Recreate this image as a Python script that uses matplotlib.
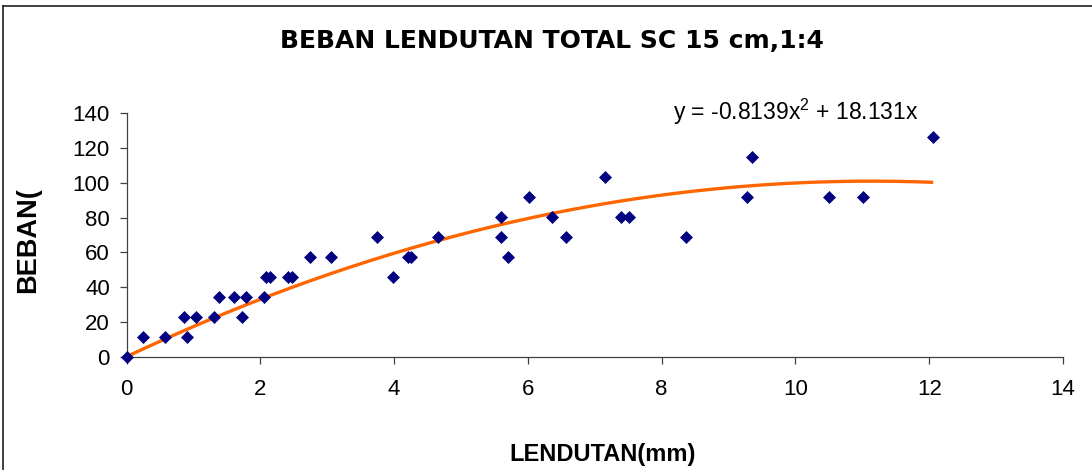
import numpy as np
import matplotlib
matplotlib.use("Agg")
import matplotlib.pyplot as plt
from matplotlib.lines import Line2D

plt.rcParams['font.family'] = ['Liberation Sans', 'DejaVu Sans']
plt.rcParams['mathtext.fontset'] = 'custom'
plt.rcParams['mathtext.rm'] = 'Liberation Sans'

# Data
lendutan = [0.0, 0.24, 0.58, 0.86, 0.90, 1.04, 1.31, 1.39, 1.60, 1.72, 1.79,
            2.05, 2.09, 2.15, 2.41, 2.47, 2.75, 3.05, 3.75, 3.99, 4.21, 4.26,
            4.66, 5.60, 5.60, 5.71, 6.01, 6.36, 6.57, 7.16, 7.39, 7.51, 8.37,
            9.28, 9.35, 10.50, 11.01, 12.06]
beban = [0.0, 11.5, 11.5, 23.0, 11.5, 23.0, 23.0, 34.5, 34.5, 23.0, 34.5,
         34.5, 46.0, 46.0, 46.0, 46.0, 57.5, 57.5, 69.0, 46.0, 57.5, 57.5,
         69.0, 80.5, 69.0, 57.5, 92.0, 80.5, 69.0, 103.5, 80.5, 80.5, 69.0,
         92.0, 115.0, 92.0, 92.0, 126.5]
coef_a = -0.8139
coef_b = 18.131
x_ticks = [0, 2, 4, 6, 8, 10, 12, 14]
y_ticks = [0, 20, 40, 60, 80, 100, 120, 140]

W, H = 1092, 470
fig = plt.figure(figsize=(W / 100, H / 100), dpi=100)
ax = fig.add_axes([126.5 / W, 1 - 356.7 / H, (1063 - 126.5) / W, (356.7 - 113.3) / H])

# trendline
xs = np.linspace(min(lendutan), max(lendutan), 200)
ax.plot(xs, coef_a * xs ** 2 + coef_b * xs, color='#FF6600', lw=2.4, zorder=2,
        solid_capstyle='butt')
ax.plot(lendutan, beban, linestyle='none', marker='D', ms=6.3, color='#000080',
        mec='#000080', mew=0.5, zorder=3, clip_on=False)

ax.set_xlim(0, 14)
ax.set_ylim(0, 140)
ax.set_xticks(x_ticks)
ax.set_yticks(y_ticks)
for s in ['top', 'right']:
    ax.spines[s].set_visible(False)
for s in ['left', 'bottom']:
    ax.spines[s].set_color('#404040')
    ax.spines[s].set_linewidth(0.9)
ax.tick_params(direction='out', length=5, width=0.9, color='#404040',
               labelsize=16)
ax.tick_params(axis='y', pad=7)
ax.tick_params(axis='x', pad=11)

fig.text(551.5 / W, 1 - 41 / H, 'BEBAN LENDUTAN TOTAL SC 15 cm,1:4', ha='center',
         va='center', fontsize=18, fontweight='bold', family='DejaVu Sans')
fig.text(603 / W, 1 - 455 / H, 'LENDUTAN(mm)', ha='center', va='center',
         fontsize=17, fontweight='bold')
fig.text(28 / W, 1 - 240 / H, 'BEBAN(', ha='center', va='center', rotation=90,
         fontsize=19.5, fontweight='bold')
fig.text(673 / W, 1 - 112 / H, r'y = -0.8139x$^{2}$ + 18.131x', ha='left',
         va='center', fontsize=16.5)

# chart border
fig.add_artist(Line2D([2.5 / W, 2.5 / W], [0, 1 - 5.5 / H], color='#202020', lw=1.2))
fig.add_artist(Line2D([2.5 / W, 1], [1 - 5.5 / H, 1 - 5.5 / H], color='#202020', lw=1.2))

fig.savefig('out.png', dpi=100)
